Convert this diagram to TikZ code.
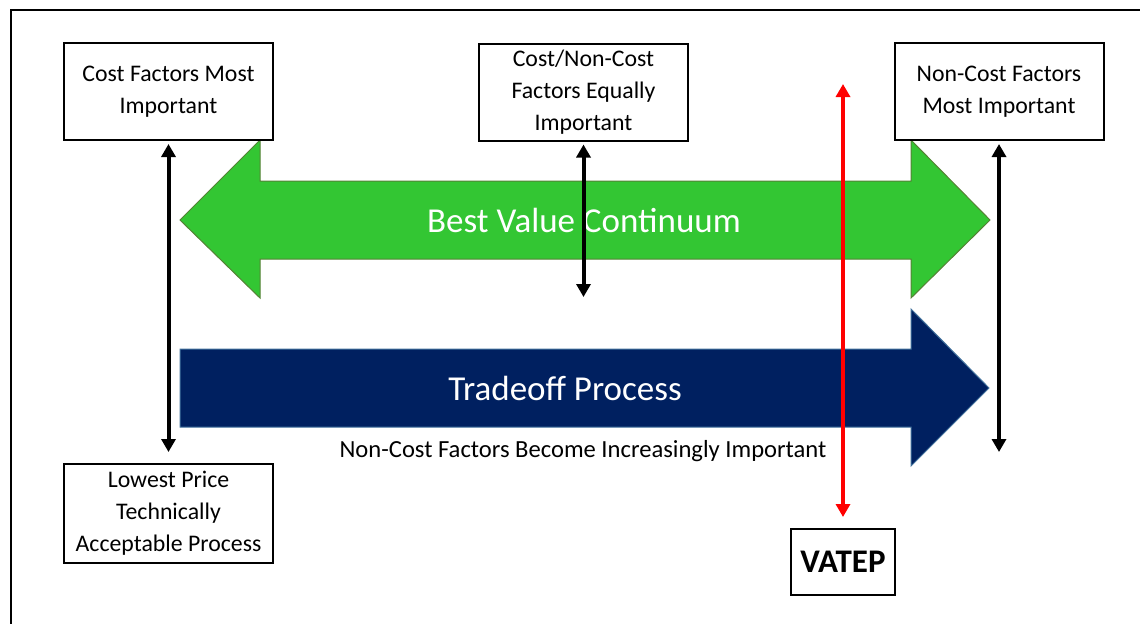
\documentclass[tikz,border=0pt]{standalone}
\usepackage{fontspec}
\setmainfont{Carlito}
\usetikzlibrary{arrows.meta}
\usetikzlibrary{positioning}
\definecolor{valuegreen}{RGB}{51,198,51}
\definecolor{valueedge}{RGB}{84,130,53}
\definecolor{tradenavy}{RGB}{0,32,96}
\definecolor{tradeedge}{RGB}{65,113,156}
\tikzset{
	factorbox/.style={draw, line width=1pt, fill=white, align=center, inner sep=0pt,
		minimum width=104.5pt, minimum height=48.5pt, font=\fontsize{11.9}{16}\selectfont},
	linkarrow/.style={line width=2pt, {Triangle[width=7pt,length=6.5pt]}-{Triangle[width=7pt,length=6.5pt]}},
	vatarrow/.style={linkarrow, draw=red},
	bigtext/.style={text=white, font=\fontsize{17.5}{20}\selectfont}
}

\begin{document}
\begin{tikzpicture}[x=0.5pt,y=-0.5pt]

	\useasboundingbox (0,0) rectangle (1140,623);
	\draw[line width=1pt] (11,650) -- (11,10) -- (1160,10);

	% best value continuum
	\draw[fill=valuegreen, draw=valueedge, line width=0.5pt]
		(180,220) -- (260,140) -- (260,181) -- (911,181) -- (911,140) -- (990,220)
		-- (911,298) -- (911,259) -- (260,259) -- (260,298) -- cycle;
	\node[bigtext] (continuum) at (584,220) {Best Value Continuum};

	% tradeoff process
	\draw[fill=tradenavy, draw=tradeedge, line width=0.5pt]
		(180,349) -- (911,349) -- (911,309) -- (989,388) -- (911,466) -- (911,427)
		-- (180,427) -- cycle;
	\node[bigtext] (tradeoff) at (565,388) {Tradeoff Process};
	\node[font=\fontsize{12.3}{14}\selectfont] (increasing) at (583,451) {Non-Cost Factors Become Increasingly Important};

	% factor boxes
	\node[factorbox] (cost) at (168.5,91.5) {Cost Factors Most\\Important};
	\node[factorbox] (equal) at (583.5,92) {Cost/Non-Cost\\Factors Equally\\Important};
	\node[factorbox] (noncost) at (999,91.5) {Non-Cost Factors\\Most Important};
	\node[factorbox, minimum height=49.5pt] (lpta) at (168.5,513.5) {Lowest Price\\Technically\\Acceptable Process};
	\node[draw, line width=1pt, inner sep=0pt, minimum width=52pt, minimum height=33pt,
		font=\bfseries\fontsize{16.5}{20}\selectfont] (vatep) at (843,562) {VATEP};

	\coordinate (equalend) at (583.5,297);
	\coordinate (noncostend) at (999,452);
	\coordinate (vateptop) at (843,84);

	\draw[linkarrow, shorten <=1.5pt, shorten >=5.5pt] (cost.south) -- (lpta.north);
	\draw[linkarrow, shorten <=1.5pt] (equal.south) -- (equalend);
	\draw[linkarrow, shorten <=1.5pt] (noncost.south) -- (noncostend);
	\draw[vatarrow, shorten >=5.5pt] (vateptop) -- (vatep.north);

\end{tikzpicture}
\end{document}
